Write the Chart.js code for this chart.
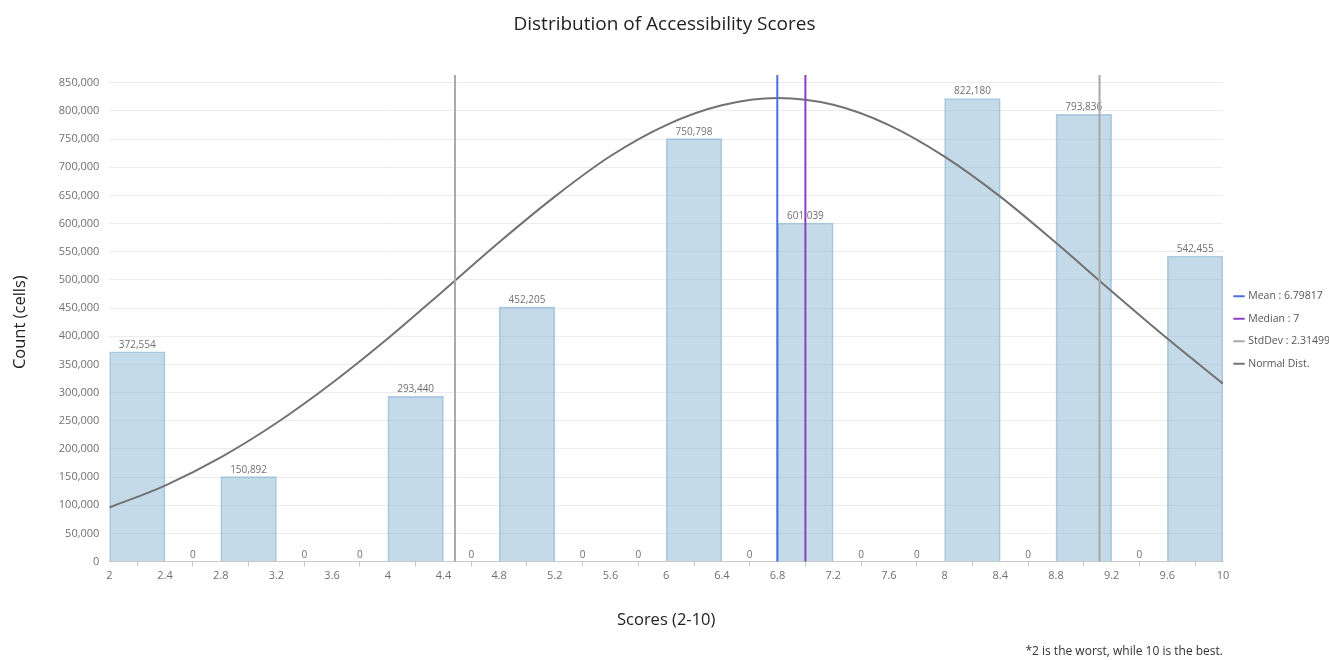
<!DOCTYPE html>
<html>
<head>
<meta charset="utf-8">
<title>Distribution of Accessibility Scores</title>
<script src="https://cdn.jsdelivr.net/npm/chart.js@4.4.1/dist/chart.umd.min.js"></script>
<style>
  html, body { margin: 0; padding: 0; background: #ffffff; }
  #wrap { width: 1329px; height: 660px; position: relative; }
</style>
</head>
<body>
<div id="wrap"><canvas id="chart"></canvas></div>
<script>
// Histogram bins (width 0.4) and their cell counts
const binCenters = [2.2, 2.6, 3.0, 3.4, 3.8, 4.2, 4.6, 5.0, 5.4, 5.8, 6.2, 6.6, 7.0, 7.4, 7.8, 8.2, 8.6, 9.0, 9.4, 9.8];
const binCounts  = [372554, 0, 150892, 0, 0, 293440, 0, 452205, 0, 0, 750798, 0, 601039, 0, 0, 822180, 0, 793836, 0, 542455];

// Fitted normal distribution curve
const curveScores = [2, 2.4, 2.8, 3.2, 3.6, 4, 4.4, 4.8, 5.2, 5.6, 6, 6.4, 6.8, 7.2, 7.6, 8, 8.4, 8.8, 9.2, 9.6, 10];
const curveCounts = [96000, 135000, 185000, 246000, 317000, 396000, 481000, 567000, 648000, 720000, 775000, 810000, 823000, 811000, 775000, 719000, 648000, 566000, 480000, 396000, 316000];

// Axis ticks
const scoreTicks = [2, 2.4, 2.8, 3.2, 3.6, 4, 4.4, 4.8, 5.2, 5.6, 6, 6.4, 6.8, 7.2, 7.6, 8, 8.4, 8.8, 9.2, 9.6, 10];
const countTicks = [0, 50000, 100000, 150000, 200000, 250000, 300000, 350000, 400000, 450000, 500000, 550000, 600000, 650000, 700000, 750000, 800000, 850000];

// Summary statistics
const meanScore = 6.79817;
const medianScore = 7;
const stdDevScore = 2.31499;
const markerTop = 864000; // marker lines reach slightly above the top gridline

const FONT = '"Open Sans", "Noto Sans", sans-serif';

function vline(x) {
  return [{ x: x, y: 0 }, { x: x, y: markerTop }];
}

// Value labels drawn above each histogram bar
const barValueLabels = {
  id: 'barValueLabels',
  afterDatasetDraw(chart, args) {
    const ds = chart.data.datasets[args.index];
    if (ds.type !== 'bar') return;
    const ctx = chart.ctx;
    ctx.save();
    ctx.font = '10px ' + FONT;
    ctx.fillStyle = '#707070';
    ctx.textAlign = 'center';
    ctx.textBaseline = 'alphabetic';
    args.meta.data.forEach((bar, i) => {
      const v = ds.data[i].y;
      ctx.fillText(v.toLocaleString('en-US'), bar.x, bar.y - 4);
    });
    ctx.restore();
  }
};

const ctx = document.getElementById('chart');
new Chart(ctx, {
  type: 'bar',
  data: {
    datasets: [
      {
        type: 'line', label: 'Mean : ' + meanScore,
        data: vline(meanScore),
        borderColor: '#4a6fe0', backgroundColor: '#4a6fe0',
        borderWidth: 2, pointRadius: 0, clip: false
      },
      {
        type: 'line', label: 'Median : ' + medianScore,
        data: vline(medianScore),
        borderColor: '#8e3fbf', backgroundColor: '#8e3fbf',
        borderWidth: 2, pointRadius: 0, clip: false
      },
      {
        type: 'line', label: 'StdDev : ' + stdDevScore,
        data: vline(meanScore - stdDevScore),
        borderColor: '#a8a8a8', backgroundColor: '#a8a8a8',
        borderWidth: 2, pointRadius: 0, clip: false
      },
      {
        type: 'line', label: 'StdDev (upper)',
        data: vline(meanScore + stdDevScore),
        borderColor: '#a8a8a8', backgroundColor: '#a8a8a8',
        borderWidth: 2, pointRadius: 0, clip: false
      },
      {
        type: 'line', label: 'Normal Dist.',
        data: curveScores.map((x, i) => ({ x: x, y: curveCounts[i] })),
        borderColor: '#727272', backgroundColor: '#727272',
        borderWidth: 2, pointRadius: 0, cubicInterpolationMode: 'monotone'
      },
      {
        type: 'bar', label: 'Count',
        data: binCenters.map((x, i) => ({ x: x, y: binCounts[i] })),
        backgroundColor: 'rgba(137, 181, 212, 0.5)',
        borderColor: 'rgba(137, 181, 212, 0.65)',
        borderWidth: 1,
        barPercentage: 1, categoryPercentage: 1,
        order: 1
      }
    ]
  },
  options: {
    responsive: true,
    maintainAspectRatio: false,
    animation: false,
    layout: { padding: 0 },
    scales: {
      x: {
        type: 'linear',
        min: 2, max: 10,
        offset: false,
        afterBuildTicks(scale) { scale.ticks = scoreTicks.map(v => ({ value: v })); },
        ticks: { color: '#707070', font: { family: FONT, size: 11 }, padding: 3, maxRotation: 0, autoSkip: false,
                 callback: v => String(Number(v.toFixed(1))) },
        grid: { drawOnChartArea: false, drawTicks: true, tickLength: 5, color: '#c8c8c8' },
        border: { display: true, color: '#c8c8c8' },
        title: { display: true, text: 'Scores (2-10)', color: '#222', font: { family: FONT, size: 16.5 }, padding: { top: 25, bottom: 5 } }
      },
      y: {
        min: 0, max: 850000,
        afterBuildTicks(scale) { scale.ticks = countTicks.map(v => ({ value: v })); },
        ticks: { color: '#707070', font: { family: FONT, size: 11 }, padding: 10,
                 callback: v => v.toLocaleString('en-US') },
        grid: { color: '#ececec', drawTicks: false },
        border: { display: false },
        title: { display: true, text: 'Count (cells)', color: '#222', font: { family: FONT, size: 16.5 }, padding: { top: 10, bottom: 19 } }
      }
    },
    plugins: {
      title: {
        display: true, text: 'Distribution of Accessibility Scores',
        color: '#222', font: { family: FONT, size: 19, weight: 'normal' },
        padding: { top: 13, bottom: 47 }
      },
      subtitle: {
        display: true, text: '*2 is the worst, while 10 is the best.',
        position: 'bottom', align: 'end', fullSize: false,
        color: '#333', font: { family: FONT, size: 12 },
        padding: { top: 9, bottom: 1 }
      },
      legend: {
        position: 'right',
        maxWidth: 106,
        labels: {
          usePointStyle: true, pointStyle: 'line', boxWidth: 8, boxHeight: 8,
          color: '#555', font: { family: FONT, size: 10.5 }, padding: 12,
          filter: item => item.text !== 'StdDev (upper)' && item.text !== 'Count'
        }
      },
      tooltip: { enabled: false }
    }
  },
  plugins: [barValueLabels]
});
</script>
</body>
</html>
